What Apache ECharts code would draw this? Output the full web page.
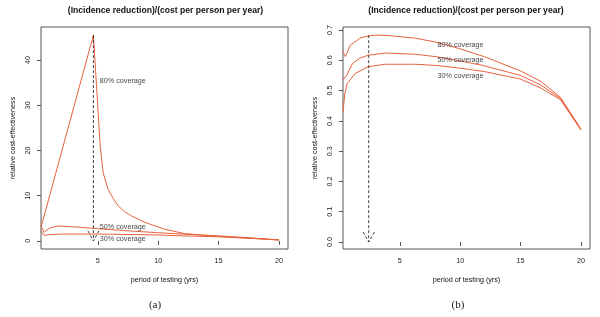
<!DOCTYPE html>
<html>
<head>
<meta charset="utf-8">
<script src="https://cdn.jsdelivr.net/npm/echarts@6/dist/echarts.min.js"></script>
<style>
  html, body { margin: 0; padding: 0; background: #fff; }
  #chart { width: 600px; height: 317px; }
</style>
</head>
<body>
<div id="chart"></div>
<script>
// panel (a) values
const xA80 = [0.3, 4.64, 5.2, 5.45, 5.85, 6.3, 6.7, 7.2, 7.8, 8.9, 10.5, 12.2, 15, 17.5, 20];
const yA80 = [3.0, 45.5, 21, 15, 11.4, 9.3, 7.7, 6.5, 5.5, 4.1, 2.6, 1.6, 1.0, 0.6, 0.2];
const xA50 = [0.3, 0.55, 1.0, 1.7, 3, 5, 7, 10, 12, 15, 18, 20];
const yA50 = [3.3, 1.9, 2.8, 3.3, 3.1, 2.7, 2.3, 1.8, 1.5, 1.1, 0.6, 0.2];
const xA30 = [0.3, 0.55, 1.0, 2, 5, 8, 10, 12, 15, 18, 20];
const yA30 = [2.2, 1.2, 1.4, 1.5, 1.5, 1.4, 1.3, 1.1, 0.9, 0.5, 0.2];

// panel (b) values
const xB80 = [0.3, 0.5, 0.9, 1.7, 2.4, 3.0, 4, 6.3, 8, 10, 12, 15, 16.7, 18.3, 20];
const yB80 = [0.628, 0.612, 0.65, 0.673, 0.681, 0.683, 0.682, 0.673, 0.66, 0.638, 0.612, 0.565, 0.53, 0.478, 0.373];
const xB50 = [0.3, 0.6, 1.1, 1.7, 2.4, 3.8, 6.3, 8, 10, 12, 15, 16.7, 18.3, 20];
const yB50 = [0.535, 0.55, 0.59, 0.607, 0.617, 0.624, 0.62, 0.612, 0.598, 0.582, 0.55, 0.518, 0.474, 0.372];
const xB30 = [0.3, 0.45, 0.66, 1.33, 2.4, 3.8, 6.3, 8, 10, 12, 15, 16.7, 18.3, 20];
const yB30 = [0.43, 0.49, 0.524, 0.557, 0.579, 0.587, 0.587, 0.583, 0.574, 0.563, 0.538, 0.508, 0.47, 0.37];

// optimum markers: [x, top y, tip y]
const optimumA = [4.64, 45.5, 0];
const optimumB = [2.43, 0.683, 0];

// coverage labels: [x, y]
const coverageNames = ["80% coverage", "50% coverage", "30% coverage"];
const labelPosA = [[5.17, 35.3], [5.17, 3.1], [5.17, 0.5]];
const labelPosB = [[8.13, 0.65], [8.13, 0.601], [8.13, 0.549]];

const xTicks = [5, 10, 15, 20];
const yTicksA = [0, 10, 20, 30, 40];
const yTicksB = [0, 0.1, 0.2, 0.3, 0.4, 0.5, 0.6, 0.7];

const titleText = "(Incidence reduction)/(cost per person per year)";
const xName = "period of testing (yrs)";
const yName = "relative cost-effectiveness";

const LINE = "#e8623e";
const AXIS = "#555";
const FONT = "Liberation Sans, Arial, sans-serif";

const zip = (xs, ys) => xs.map((x, i) => [x, ys[i]]);

// dashed drop line + open arrow head, in data units
function arrowData(opt, hw, hh) {
  const [x, top, tip] = opt;
  return [[x, top], [x, tip], null, [x - hw, tip + hh], [x, tip], [x + hw, tip + hh]];
}

function curve(name, data, idx) {
  return {
    name, type: "line", data, xAxisIndex: idx, yAxisIndex: idx,
    showSymbol: false, symbol: "none", smooth: false,
    lineStyle: { color: LINE, width: 1 }, z: 3,
  };
}

function labels(pos, idx) {
  return {
    type: "scatter", xAxisIndex: idx, yAxisIndex: idx, symbolSize: 0,
    data: pos.map((p, i) => ({ value: p, name: coverageNames[i] })),
    label: {
      show: true, position: "right", distance: 0, formatter: "{b}",
      fontFamily: FONT, fontSize: 7.2, color: "#111",
    },
    silent: true, z: 5,
  };
}

function xAxis(idx) {
  return {
    gridIndex: idx, type: "value", min: 0.3, max: 20.75,
    name: xName, nameLocation: "middle", nameGap: 28,
    nameTextStyle: { fontFamily: FONT, fontSize: 7.2, color: "#111" },
    axisLine: { show: false },
    axisTick: { show: true, customValues: xTicks, length: 4, lineStyle: { color: AXIS } },
    axisLabel: { customValues: xTicks, margin: 9, fontFamily: FONT, fontSize: 7.2, color: "#222" },
    splitLine: { show: false },
  };
}

function yAxis(idx, min, max, ticks, fmt) {
  return {
    gridIndex: idx, type: "value", min, max,
    name: yName, nameLocation: "middle", nameGap: 24, nameRotate: 90,
    nameTextStyle: { fontFamily: FONT, fontSize: 7.2, color: "#111" },
    axisLine: { show: false },
    axisTick: { show: true, customValues: ticks, length: 4, lineStyle: { color: AXIS } },
    axisLabel: { customValues: ticks, rotate: 90, margin: 9, fontFamily: FONT, fontSize: 7.2, color: "#222", formatter: fmt },
    splitLine: { show: false },
  };
}

const chart = echarts.init(document.getElementById("chart"), null, { renderer: "canvas" });

const option = {
  animation: false,
  backgroundColor: "#fff",
  grid: [
    { left: 41, right: 312, top: 27, bottom: 68, show: true, borderColor: AXIS, borderWidth: 1, backgroundColor: "transparent" },
    { left: 343, right: 10, top: 27, bottom: 68, show: true, borderColor: AXIS, borderWidth: 1, backgroundColor: "transparent" },
  ],
  xAxis: [xAxis(0), xAxis(1)],
  yAxis: [
    yAxis(0, -1.8, 47.3, yTicksA, (v) => String(v)),
    yAxis(1, -0.023, 0.71, yTicksB, (v) => v.toFixed(1)),
  ],
  graphic: [
    { type: "text", x: 165.5, y: 11, style: { text: titleText, font: "bold 8.6px " + FONT, fill: "#111", textAlign: "center", textVerticalAlign: "middle" } },
    { type: "text", x: 466, y: 11, style: { text: titleText, font: "bold 8.6px " + FONT, fill: "#111", textAlign: "center", textVerticalAlign: "middle" } },
    { type: "text", x: 155, y: 305, style: { text: "(a)", font: "11px Liberation Serif, DejaVu Serif, serif", fill: "#222", textAlign: "center", textVerticalAlign: "middle" } },
    { type: "text", x: 458, y: 305, style: { text: "(b)", font: "11px Liberation Serif, DejaVu Serif, serif", fill: "#222", textAlign: "center", textVerticalAlign: "middle" } },
  ],
  series: [
    curve("80% coverage", zip(xA80, yA80), 0),
    curve("50% coverage", zip(xA50, yA50), 0),
    curve("30% coverage", zip(xA30, yA30), 0),
    {
      type: "line", xAxisIndex: 0, yAxisIndex: 0, data: arrowData(optimumA, 0.45, 2.2),
      showSymbol: false, symbol: "none", connectNulls: false,
      lineStyle: { color: "#111", width: 0.8, type: [3, 2] }, z: 4,
    },
    labels(labelPosA, 0),
    curve("80% coverage", zip(xB80, yB80), 1),
    curve("50% coverage", zip(xB50, yB50), 1),
    curve("30% coverage", zip(xB30, yB30), 1),
    {
      type: "line", xAxisIndex: 1, yAxisIndex: 1, data: arrowData(optimumB, 0.47, 0.033),
      showSymbol: false, symbol: "none", connectNulls: false,
      lineStyle: { color: "#111", width: 0.8, type: [3, 2] }, z: 4,
    },
    labels(labelPosB, 1),
  ],
};

chart.setOption(option);
</script>
</body>
</html>
